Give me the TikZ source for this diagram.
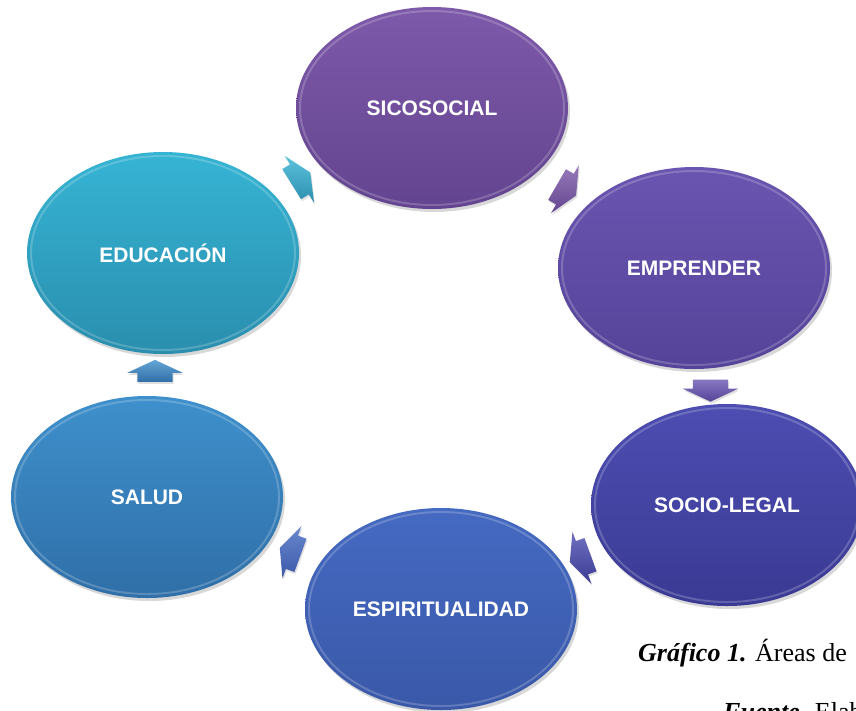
\documentclass[tikz,border=0pt]{standalone}
\usepackage{fontspec}
\setsansfont{Liberation Sans}
\newfontfamily\captionserif{Liberation Serif}
\usepackage{tikz}
\usetikzlibrary{positioning,shapes,shadows,arrows.meta,calc}
\definecolor{sicoTop}{HTML}{7E5AAA}
\definecolor{sicoBot}{HTML}{634490}
\definecolor{empTop}{HTML}{6A55B0}
\definecolor{empBot}{HTML}{554399}
\definecolor{legalTop}{HTML}{4D4DB2}
\definecolor{legalBot}{HTML}{3A3A94}
\definecolor{espTop}{HTML}{456AC2}
\definecolor{espBot}{HTML}{3A58A8}
\definecolor{saludTop}{HTML}{3E90CC}
\definecolor{saludBot}{HTML}{306FA8}
\definecolor{eduTop}{HTML}{36B4D4}
\definecolor{eduBot}{HTML}{2A8EAE}

\begin{document}
\begin{tikzpicture}[x=1pt,y=-1pt]
	\tikzstyle{area}=[ellipse, minimum width=272pt, minimum height=202pt, inner sep=0pt,
	text=white, font=\sffamily\bfseries\fontsize{21}{25}\selectfont,
	drop shadow={opacity=0.3, shadow xshift=2pt, shadow yshift=-3pt},
	path picture={\draw[white, opacity=0.2, line width=2pt] (path picture bounding box.center) ellipse [x radius=132pt, y radius=97pt];}]
	\tikzstyle{cyclearrow}=[single arrow, single arrow head extend=10pt, single arrow tip angle=130,
	minimum height=22pt, inner xsep=0pt, inner ysep=17.5pt,
	drop shadow={opacity=0.25, shadow xshift=1pt, shadow yshift=-2pt}]
	\tikzstyle{caption}=[anchor=base west, inner sep=0pt, font=\captionserif\fontsize{26}{30}\selectfont]
	\useasboundingbox (0,0) rectangle (856,710);
	\fill[white] (0,0) rectangle (856,710);
	
	\node (Sicosocial) [area, top color=sicoTop, bottom color=sicoBot] at (432,108) {SICOSOCIAL};
	\node (Emprender) [area, top color=empTop, bottom color=empBot] at (694,268) {EMPRENDER};
	\node (SocioLegal) [area, top color=legalTop, bottom color=legalBot] at (727,505) {SOCIO-LEGAL};
	\node (Espiritualidad) [area, top color=espTop, bottom color=espBot] at (441,609) {ESPIRITUALIDAD};
	\node (Salud) [area, top color=saludTop, bottom color=saludBot] at (147,497) {SALUD};
	\node (Educacion) [area, top color=eduTop, bottom color=eduBot] at (163,253) {EDUCACIÓN};
	
	\node (EduSico) [cyclearrow, top color=eduTop!80!white, bottom color=eduBot, rotate=32] at ($(Educacion)!0.5!(Sicosocial)$) {};
	\node (SicoEmp) [cyclearrow, top color=sicoTop!80!white, bottom color=sicoBot, rotate=-30] at ($(Sicosocial)!0.5!(Emprender)$) {};
	\node (EmpLegal) [cyclearrow, top color=empTop!80!white, bottom color=empBot, rotate=-90] at ($(Emprender)!0.5!(SocioLegal)$) {};
	\node (LegalEsp) [cyclearrow, top color=legalTop!80!white, bottom color=legalBot, rotate=-160] at ($(SocioLegal)!0.5!(Espiritualidad)$) {};
	\node (EspSalud) [cyclearrow, top color=espTop!80!white, bottom color=espBot, rotate=160] at ($(Espiritualidad)!0.5!(Salud)$) {};
	\node (SaludEdu) [cyclearrow, top color=saludTop!80!white, bottom color=saludBot, rotate=90] at ($(Salud)!0.5!(Educacion)$) {};
	
	\node (Grafico) [caption] at (638,661) {\textbf{\textit{Gráfico 1.}} Áreas de};
	\node (Fuente) [caption] at (723,720) {\textbf{\textit{Fuente.}} Elab};
\end{tikzpicture}
\end{document}
